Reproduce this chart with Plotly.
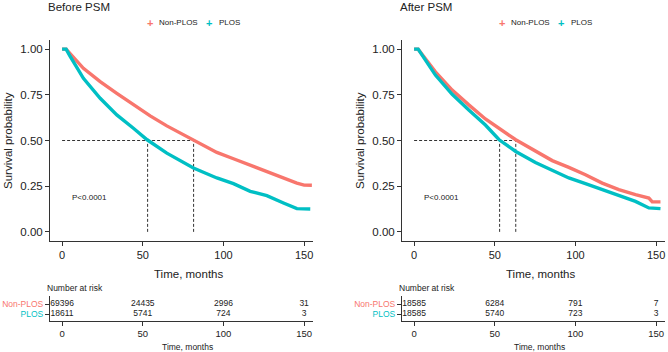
import plotly.graph_objects as go

W, H = 668, 352
def px(x): return x / W
def py(y): return 1 - y / H

RED = "#F8766D"
CYAN = "#00BFC4"
INK = "#222222"
FONT = "Liberation Sans, Arial, sans-serif"

groups = ["Non-PLOS", "PLOS"]

# ---- Before PSM survival curves ----
before_nonplos_t = [0, 2.5, 13.2, 23.6, 33.9, 44.2, 54.6, 64.9, 81.4, 95.9, 106.2, 116.6, 126.9, 137.2, 145.5, 150, 154.8]
before_nonplos_s = [1.0, 1.0, 0.895, 0.822, 0.758, 0.695, 0.635, 0.580, 0.504, 0.435, 0.400, 0.365, 0.330, 0.292, 0.267, 0.256, 0.255]
before_plos_t = [0, 2.5, 5.0, 13.2, 23.6, 33.9, 44.2, 52.7, 64.9, 81.4, 95.9, 106.2, 116.6, 126.9, 137.2, 145.5, 153.8]
before_plos_s = [1.0, 1.0, 0.960, 0.840, 0.731, 0.640, 0.567, 0.504, 0.431, 0.349, 0.295, 0.264, 0.222, 0.198, 0.158, 0.127, 0.125]

# ---- After PSM survival curves ----
after_nonplos_t = [0, 2.5, 13.2, 23.6, 33.9, 44.2, 63.0, 75.2, 85.6, 95.9, 106.2, 116.6, 126.9, 137.2, 145.5, 147.6, 152.7]
after_nonplos_s = [1.0, 1.0, 0.876, 0.776, 0.695, 0.618, 0.504, 0.440, 0.390, 0.353, 0.313, 0.267, 0.231, 0.204, 0.185, 0.164, 0.164]
after_plos_t = [0, 2.5, 13.2, 23.6, 33.9, 44.2, 52.7, 63.0, 75.2, 85.6, 95.9, 106.2, 116.6, 126.9, 137.2, 145.5, 152.7]
after_plos_s = [1.0, 1.0, 0.858, 0.753, 0.667, 0.585, 0.504, 0.440, 0.380, 0.335, 0.295, 0.264, 0.231, 0.198, 0.167, 0.131, 0.127]

# Median survival times
before_medians = [81.5, 53.0]   # Non-PLOS, PLOS
after_medians = [63.0, 53.0]

# Number at risk
risk_times = [0, 50, 100, 150]
before_risk_nonplos = [69396, 24435, 2996, 31]
before_risk_plos = [18611, 5741, 724, 3]
after_risk_nonplos = [18585, 6284, 791, 7]
after_risk_plos = [18585, 5740, 723, 3]

x_ticks = [0, 50, 100, 150]
y_ticks = [0.0, 0.25, 0.5, 0.75, 1.0]

XR = [-7.5, 155.5]

fig = go.Figure()

panels = [
    dict(xa="x", ya="y", xt="x3", yt="y3",
         curves=[(before_nonplos_t, before_nonplos_s, RED), (before_plos_t, before_plos_s, CYAN)],
         med=before_medians, risk=[before_risk_nonplos, before_risk_plos]),
    dict(xa="x2", ya="y2", xt="x4", yt="y4",
         curves=[(after_nonplos_t, after_nonplos_s, RED), (after_plos_t, after_plos_s, CYAN)],
         med=after_medians, risk=[after_risk_nonplos, after_risk_plos]),
]

shapes = []
for p in panels:
    for (t, s, c), g in zip(p["curves"], groups):
        fig.add_trace(go.Scatter(x=t, y=s, mode="lines", name=g, showlegend=False,
                                 line=dict(color=c, width=3.4),
                                 xaxis=p["xa"], yaxis=p["ya"], cliponaxis=False))
    mmax = max(p["med"])
    shapes.append(dict(type="line", xref=p["xa"], yref=p["ya"], x0=0, x1=mmax, y0=0.5, y1=0.5,
                       line=dict(color="#333", width=1, dash="3px,2px"), layer="below"))
    for m in p["med"]:
        shapes.append(dict(type="line", xref=p["xa"], yref=p["ya"], x0=m, x1=m, y0=0, y1=0.5,
                           line=dict(color="#333", width=1, dash="3px,2px"), layer="below"))
    for yi, vals in zip([2, 1], p["risk"]):
        fig.add_trace(go.Scatter(x=risk_times, y=[yi] * len(risk_times), mode="text",
                                 text=[str(v) for v in vals], textposition="middle center",
                                 textfont=dict(size=8.5, color=INK, family=FONT),
                                 showlegend=False, xaxis=p["xt"], yaxis=p["yt"],
                                 cliponaxis=False))

main_y = [py(241), py(40)]
tab_y = [py(321), py(296)]
left_x = [px(50), px(313)]
right_x = [px(402), px(665)]

def xax(domain, anchor, size):
    return dict(domain=domain, anchor=anchor, range=XR, tickvals=x_ticks, showline=True,
                linecolor="#333", linewidth=1, ticks="outside", ticklen=4, tickcolor="#333",
                showgrid=False, zeroline=False, automargin=False,
                tickfont=dict(size=size, color=INK, family=FONT))

def yax_main(anchor):
    return dict(domain=main_y, anchor=anchor, range=[-0.05, 1.05], tickvals=y_ticks,
                tickformat=".2f", showline=True, linecolor="#333", linewidth=1,
                ticks="outside", ticklen=4, tickcolor="#333", showgrid=False, zeroline=False,
                automargin=False, tickfont=dict(size=11.5, color=INK, family=FONT))

def yax_tab(anchor):
    return dict(domain=tab_y, anchor=anchor, range=[0.3, 2.8], tickvals=[2, 1],
                ticktext=[f'<span style="color:{RED}">Non-PLOS</span>',
                          f'<span style="color:{CYAN}">PLOS</span>'],
                showline=True, linecolor="#333", linewidth=1, ticks="outside", ticklen=4,
                tickcolor="#333", showgrid=False, zeroline=False, automargin=False,
                tickfont=dict(size=8.5, family=FONT))

fig.update_layout(
    width=W, height=H, margin=dict(l=0, r=0, t=0, b=0, autoexpand=False),
    paper_bgcolor="white", plot_bgcolor="white",
    font=dict(family=FONT, color=INK),
    xaxis=xax(left_x, "y", 11), yaxis=yax_main("x"),
    xaxis2=xax(right_x, "y2", 11), yaxis2=yax_main("x2"),
    xaxis3=xax(left_x, "y3", 9.5), yaxis3=yax_tab("x3"),
    xaxis4=xax(right_x, "y4", 9.5), yaxis4=yax_tab("x4"),
    shapes=shapes, showlegend=False,
)

ann = []
def text(x, y, s, size, color=INK, xanchor="left", angle=0):
    ann.append(dict(xref="paper", yref="paper", x=px(x), y=py(y), text=s, showarrow=False,
                    xanchor=xanchor, yanchor="middle", textangle=angle,
                    font=dict(size=size, color=color, family=FONT), borderpad=0))

for ox, title in [(0, "Before PSM"), (352, "After PSM")]:
    text(47 + ox, 7, title, 11.5)
    text(150 + ox, 23, "<b>+</b>", 11, RED, xanchor="center")
    text(158 + ox, 23, groups[0], 8)
    text(209 + ox, 23, "<b>+</b>", 11, CYAN, xanchor="center")
    text(218 + ox, 23, groups[1], 8)
    text(8 + ox, 141, "Survival probability", 11.5, xanchor="center", angle=-90)
    text(71 + ox, 197, "P&lt;0.0001", 8)
    text(188 + ox, 274, "Time, months", 11.5, xanchor="center")
    text(46 + ox, 288, "Number at risk", 8.5)
    text(187 + ox, 347, "Time, months", 8.5, xanchor="center")

fig.update_layout(annotations=ann)
fig.write_html("out.html", config={"displayModeBar": False},
               post_script="document.body.style.margin='0';document.body.style.overflow='hidden';")
